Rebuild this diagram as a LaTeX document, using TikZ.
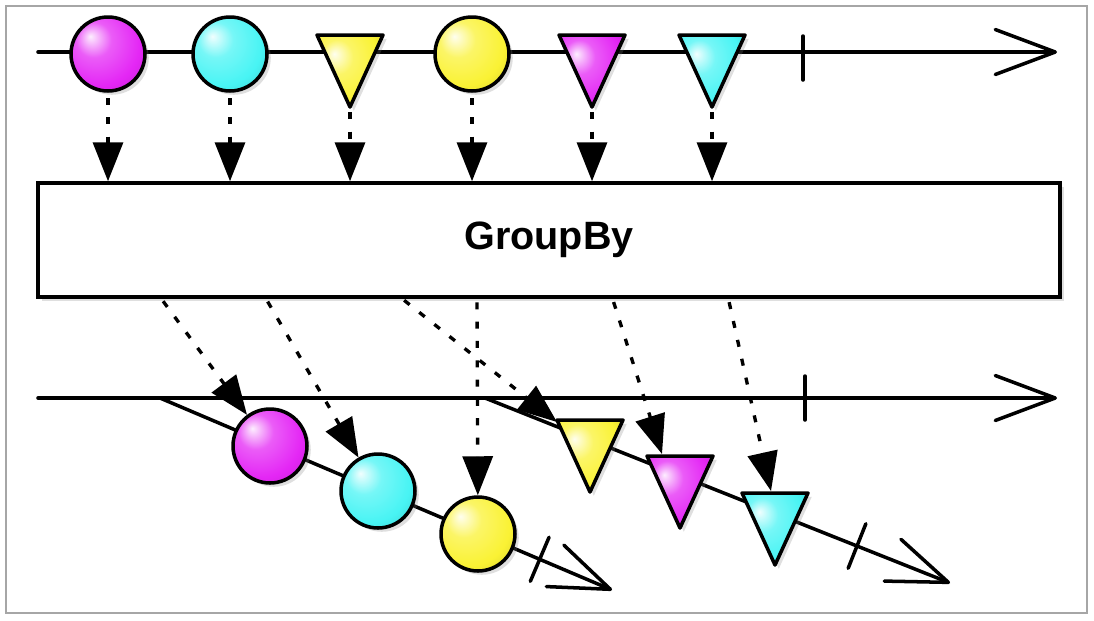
\documentclass[tikz,border=0pt]{standalone}
\usepackage{fontspec}
\setsansfont{Liberation Sans}
\usetikzlibrary{arrows.meta, calc, shadows}
\definecolor{marblemagenta}{RGB}{228,38,245}
\definecolor{marblecyan}{RGB}{72,244,244}
\definecolor{marbleyellow}{RGB}{250,242,52}
\colorlet{marblecolor}{white}
\pgfdeclareradialshading[marblecolor]{marble}{\pgfpoint{-12bp}{12bp}}{%
  color(0bp)=(marblecolor!8!white); color(12bp)=(marblecolor!75!white);
  color(28bp)=(marblecolor); color(45bp)=(marblecolor!80!black);
  color(62bp)=(marblecolor!55!black)}
\tikzset{
  marble/.style={shade, shading=marble, /utils/exec={\colorlet{marblecolor}{#1}}},
  ball/.style={circle, draw, line width=2pt, minimum size=1.48cm, inner sep=0pt, marble=#1, drop shadow={opacity=0.25}},
  axis/.style={line width=2pt, line cap=round, -{Straight Barb[length=1.2cm, width=0.9cm, round]}},
  tickmark/.style={line width=2pt, line cap=round},
  feed/.style={line width=1.9pt, dash pattern=on 4pt off 7pt, -{Triangle[length=0.78cm, width=0.6cm]}},
  opbox/.style={draw, line width=2pt, fill=white, minimum width=20.44cm, minimum height=2.28cm, font=\sffamily\bfseries\fontsize{22.5}{27}\selectfont, drop shadow={opacity=0.25}}
}
% inverted triangle marble: name, centre, colour
\newcommand{\trimarble}[3]{%
  \coordinate (#1) at #2;
  \draw[marble=#3, line width=2pt, line join=round, drop shadow={opacity=0.25}]
    ($(#1)+(-33,-17)$) -- ($(#1)+(33,-17)$) -- ($(#1)+(0,55)$) -- cycle;
  \coordinate (#1-apex) at ($(#1)+(0,55)$);
}

\begin{document}
\begin{tikzpicture}[x=0.02cm, y=-0.02cm]
  \useasboundingbox (0,0) rectangle (1094,620);
  \draw[gray!70, line width=1pt] (6,6) rectangle (1087,613);
  % time lines
  \coordinate (topstart) at (38,52);
  \coordinate (topend) at (1057,52);
  \coordinate (midstart) at (38,398);
  \coordinate (midend) at (1057,398);
  \draw[axis] (topstart) -- (topend);
  \draw[axis] (midstart) -- (midend);
  \draw[tickmark] (803,36) -- (803,80);
  \draw[tickmark] (805,376) -- (805,420);
  % grouped lines
  \coordinate (gastart) at (160,398);
  \coordinate (gaend) at (612,590);
  \coordinate (gbstart) at (485,398);
  \coordinate (gbend) at (950,583);
  \draw[axis] (gastart) -- coordinate[pos=0.84] (gatick) (gaend);
  \draw[axis] (gbstart) -- coordinate[pos=0.80] (gbtick) (gbend);
  \draw[tickmark] ($(gatick)!0.48cm!90:(gaend)$) -- ($(gatick)!0.48cm!-90:(gaend)$);
  \draw[tickmark] ($(gbtick)!0.48cm!90:(gbend)$) -- ($(gbtick)!0.48cm!-90:(gbend)$);

  % source marbles
  \node[ball=marblemagenta] (in1) at (108,54) {};
  \node[ball=marblecyan] (in2) at (230,54) {};
  \trimarble{in3}{(350,52)}{marbleyellow}
  \node[ball=marbleyellow] (in4) at (472,54) {};
  \trimarble{in5}{(592,52)}{marblemagenta}
  \trimarble{in6}{(712,52)}{marblecyan}

  \node[opbox] (groupby) at (549,240) {GroupBy};

  \foreach \m in {in1,in2,in4}
    \draw[feed, shorten <=3pt] (\m.south) -- (\m.south |- groupby.north);
  \foreach \m in {in3,in5,in6}
    \draw[feed, shorten <=3pt] (\m-apex) -- (\m-apex |- groupby.north);

  % grouped marbles
  \node[ball=marblemagenta] (ga1) at (270,446) {};
  \node[ball=marblecyan] (ga2) at (378,491) {};
  \node[ball=marbleyellow] (ga3) at (478,534) {};
  \trimarble{gb1}{(590,437)}{marbleyellow}
  \trimarble{gb2}{(680,473)}{marblemagenta}
  \trimarble{gb3}{(775,510)}{marblecyan}

  \foreach \x [count=\i] in {160,265,400,477,612,728}
    \coordinate (out\i) at (\x,297);
  \draw[feed, shorten <=3pt] (out1) -- (ga1);
  \draw[feed, shorten <=3pt] (out2) -- (ga2);
  \draw[feed, shorten <=3pt] (out3) -- ($(gb1)+(-33,-15)$);
  \draw[feed, shorten <=3pt] (out4) -- (ga3);
  \draw[feed, shorten <=3pt] (out5) -- ($(gb2)+(-18,-19)$);
  \draw[feed, shorten <=3pt] (out6) -- ($(gb3)+(-4,-19)$);
\end{tikzpicture}
\end{document}
